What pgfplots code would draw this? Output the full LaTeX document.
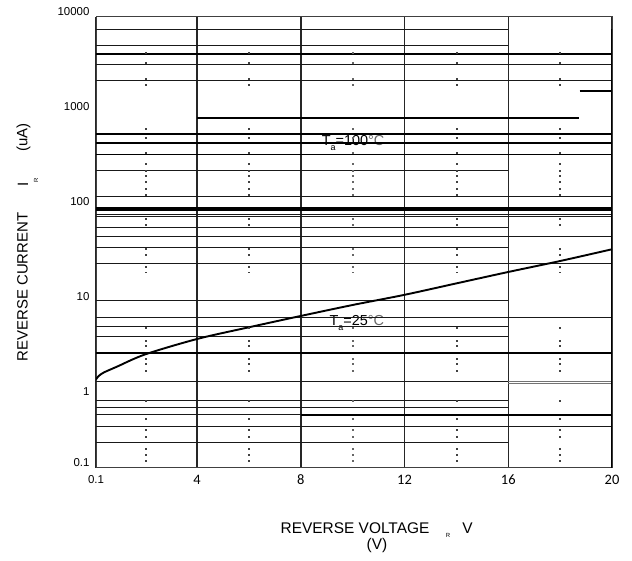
\documentclass[border=0pt]{standalone}
\usepackage{pgfplots}
\pgfplotsset{compat=1.18}
\usepackage{pgfplotstable}
\usepackage{fontspec}
\setmainfont{Liberation Sans}
\newfontfamily\carlito{Carlito}
\newfontfamily\lsans{Liberation Sans}

% small dotted marks read in the middle of each column
\pgfplotstableread{
y
4210
3300
2225
1925
667
536
373
286
240
212
185
157
136
76
65.8
36.1
31.5
23.6
20.6
5.42
3.92
3.44
2.55
2.22
1.89
0.915
0.586
0.45
0.382
0.288
0.245
0.212
}\dotstable

\begin{document}
\begin{tikzpicture}
\begin{axis}[
  at={(0,0)}, anchor=south west,
  scale only axis, width=516bp, height=450.5bp,
  xmin=0.1, xmax=20, ymode=log, ymin=0.181, ymax=10000,
  xtick={0.1,4,8,12,16,20},
  xticklabels={{\lsans\fontsize{11.5}{12}\selectfont 0.1},4,8,12,16,20},
  xticklabel style={font=\carlito\fontsize{14.5}{15}\selectfont, yshift=-4bp},
  ytick={0.181,1,10,100,1000,10000},
  yticklabels={0.1,1,10,100,1000,10000},
  yticklabel style={font=\fontsize{11.5}{12}\selectfont, xshift=-3bp, yshift=5bp},
  yminorticks=false,
  major tick length=0, minor tick length=0,
  xmajorgrids, grid style={black!85, line width=1.4bp},
  axis line style={black!75, line width=1bp},
  hl/.style={black!90, line width=0.9bp, no markers, forget plot},
  hk/.style={black, line width=1.7bp, no markers, forget plot},
  hv/.style={black, line width=2.4bp, no markers, forget plot},
  hg/.style={black!55, line width=0.9bp, no markers, forget plot},
]
% Ta labels (drawn first so the lines run over them)
\node[anchor=west, inner sep=0, font=\fontsize{14.5}{14.5}\selectfont] at (axis cs:8.8,470)
  {T\raisebox{-0.7ex}{\fontsize{9}{9}\selectfont a}=100{\color{black!60}°C}};
\node[anchor=west, inner sep=0, font=\fontsize{14.5}{14.5}\selectfont] at (axis cs:9.1,6.05)
  {T\raisebox{-0.7ex}{\fontsize{9}{9}\selectfont a}=25{\color{black!60}°C}};
% horizontal lines
\addplot[hl] coordinates {(0.1,7480)(16,7480)};
\addplot[hl] coordinates {(0.1,5035)(16,5035)};
\addplot[hk] coordinates {(0.1,4110)(20,4110)};
\addplot[hl] coordinates {(0.1,3148)(20,3148)};
\addplot[hl] coordinates {(0.1,2134)(20,2134)};
\addplot[hk] coordinates {(18.75,1651)(20,1651)};
\addplot[hk] coordinates {(4,859)(18.73,859)};
\addplot[hk] coordinates {(0.1,582)(20,582)};
\addplot[hv] coordinates {(0.1,469)(20,469)};
\addplot[hk] coordinates {(0.1,356)(20,356)};
\addplot[hl] coordinates {(0.1,241)(16,241)};
\addplot[hl] coordinates {(0.1,128)(20,128)};
\addplot[hk] coordinates {(0.1,98.4)(20,98.4)};
\addplot[hk] coordinates {(0.1,93.7)(20,93.7)};
\addplot[hl] coordinates {(0.1,83.8)(20,83.8)};
\addplot[hl] coordinates {(0.1,80.4)(20,80.4)};
\addplot[hl] coordinates {(0.1,60.5)(16,60.5)};
\addplot[hl] coordinates {(0.1,49.2)(20,49.2)};
\addplot[hl] coordinates {(0.1,37.7)(16,37.7)};
\addplot[hl] coordinates {(0.1,25.5)(20,25.5)};
\addplot[hl] coordinates {(0.1,10.3)(16,10.3)};
\addplot[hl] coordinates {(0.1,6.87)(20,6.87)};
\addplot[hl] coordinates {(0.1,5.58)(16,5.58)};
\addplot[hl] coordinates {(0.1,4.34)(16,4.34)};
\addplot[hk] coordinates {(0.1,2.92)(20,2.92)};
\addplot[hl] coordinates {(0.1,1.47)(16,1.47)};
\addplot[hg] coordinates {(16,1.45)(20,1.45)};
\addplot[hg] coordinates {(16,1.38)(20,1.38)};
\addplot[hl] coordinates {(0.1,0.93)(16,0.93)};
\addplot[hl] coordinates {(0.1,0.78)(16,0.78)};
\addplot[hl] coordinates {(0.1,0.647)(8,0.647)};
\addplot[hk] coordinates {(8,0.647)(20,0.647)};
\addplot[hl] coordinates {(0.1,0.487)(20,0.487)};
\addplot[hl] coordinates {(0.1,0.333)(16,0.333)};
% right border
\addplot[black, line width=1.8bp, no markers, forget plot] coordinates {(20,0.181)(20,7480)};
% dotted marks
\addplot[only marks, mark=square*, mark size=0.45bp, black!75, forget plot] table[x expr=2, y=y] {\dotstable};
\addplot[only marks, mark=square*, mark size=0.45bp, black!75, forget plot] table[x expr=6, y=y] {\dotstable};
\addplot[only marks, mark=square*, mark size=0.45bp, black!60, forget plot] table[x expr=10, y=y] {\dotstable};
\addplot[only marks, mark=square*, mark size=0.45bp, black!75, forget plot] table[x expr=14, y=y] {\dotstable};
\addplot[only marks, mark=square*, mark size=0.45bp, black!75, forget plot] table[x expr=18, y=y] {\dotstable};
% Ta = 25 C curve
\addplot[black, line width=1.9bp, smooth, no markers] coordinates {
(0.1,1.53)(0.2,1.66)(0.4,1.81)(0.9,2.08)(2,2.81)(4,4.08)(6,5.42)(8,7.13)
(10,9.3)(12,11.9)(14,15.7)(16,20.7)(18,27)(20,35.9)};
\end{axis}
\path (-96bp,-93.5bp) rectangle (536bp,467.5bp);
% y axis label
\node[rotate=90, inner sep=0, font=\fontsize{15}{15}\selectfont] at (-73.5bp,180.5bp) {REVERSE CURRENT};
\node[rotate=90, inner sep=0, font=\fontsize{15}{15}\selectfont] at (-73bp,283.5bp) {I};
\node[rotate=90, inner sep=0, font=\fontsize{6}{6}\selectfont] at (-60bp,287.5bp) {R};
\node[rotate=90, inner sep=0, font=\fontsize{15}{15}\selectfont] at (-72.5bp,330bp) {(uA)};
% x axis label
\node[inner sep=0, font=\fontsize{15.5}{15.5}\selectfont] at (259bp,-60.5bp) {REVERSE VOLTAGE};
\node[inner sep=0, font=\fontsize{6}{6}\selectfont] at (352bp,-67.5bp) {R};
\node[inner sep=0, font=\fontsize{15.5}{15.5}\selectfont] at (371.5bp,-60.5bp) {V};
\node[inner sep=0, font=\fontsize{15.5}{15.5}\selectfont] at (281bp,-78.5bp) {(V)};
\end{tikzpicture}
\end{document}
